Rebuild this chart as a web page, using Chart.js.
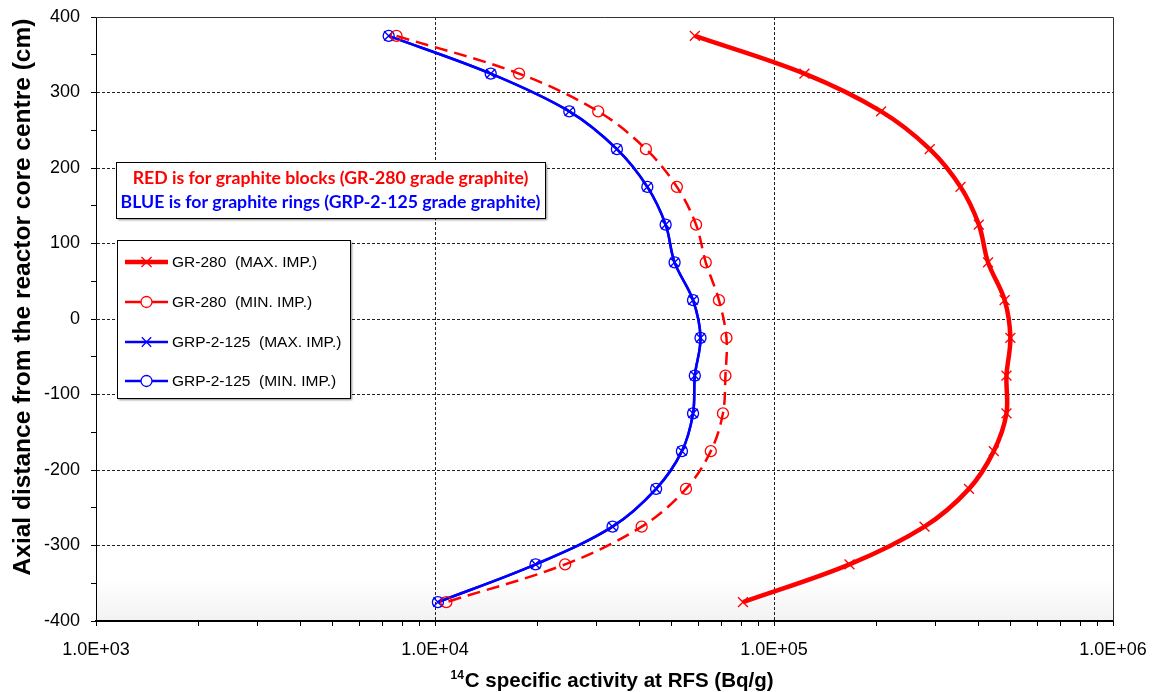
<!DOCTYPE html>
<html>
<head>
<meta charset="utf-8">
<script src="https://cdn.jsdelivr.net/npm/chart.js@4.4.1/dist/chart.umd.min.js"></script>
<style>
  html, body { margin: 0; padding: 0; background: #ffffff; }
  #wrap { position: relative; width: 1155px; height: 692px; }
  canvas { display: block; }
</style>
</head>
<body>
<div id="wrap"><canvas id="chart" width="1155" height="692"></canvas></div>
<script>
// ---- data ----
const axialPositions = [375, 325, 275, 225, 175, 125, 75, 25, -25, -75, -125, -175, -225, -275, -325, -375];
const gr280Max  = [58400, 123000, 207000, 288000, 355000, 402000, 428000, 479000, 498000, 485000, 485000, 445000, 376000, 278000, 167000, 81000];
const gr280Min  = [7700, 17700, 30300, 41900, 51700, 58900, 62900, 68800, 72400, 71900, 70700, 65100, 55000, 40700, 24200, 10800];
const grp2125Max = [7300, 14600, 24900, 34400, 42300, 47900, 50900, 57700, 60700, 58400, 57700, 53500, 44900, 33400, 19800, 10200];
const grp2125Min = [7300, 14600, 24900, 34400, 42300, 47900, 50900, 57700, 60700, 58400, 57700, 53500, 44900, 33400, 19800, 10200];
const seriesNames = ['GR-280  (MAX. IMP.)', 'GR-280  (MIN. IMP.)', 'GRP-2-125  (MAX. IMP.)', 'GRP-2-125  (MIN. IMP.)'];
const xTickValues = [1e3, 1e4, 1e5, 1e6];
const xTickLabels = ['1.0E+03', '1.0E+04', '1.0E+05', '1.0E+06'];
const yTickValues = [-400, -300, -200, -100, 0, 100, 200, 300, 400];
const yTickLabels = ['-400', '-300', '-200', '-100', '0', '100', '200', '300', '400'];
const noteLines = ['RED is for graphite blocks (GR-280 grade graphite)', 'BLUE is for graphite rings (GRP-2-125 grade graphite)'];
const xTitleSup = '14';
const xTitleMain = 'C specific activity at RFS (Bq/g)';
const yTitle = 'Axial distance from the reactor core centre (cm)';

const RED = '#ff0000';
const BLUE = '#0000ff';
const SANS = '"Liberation Sans", Arial, sans-serif';

function pts(arr) { return axialPositions.map((y, i) => ({ x: arr[i], y: y })); }
function isDecade(v) { const l = Math.log10(v); return Math.abs(l - Math.round(l)) < 1e-9; }

// plot-area background and border
const plotAreaPlugin = {
  id: 'plotArea',
  beforeDraw(chart) {
    const { ctx, chartArea: a } = chart;
    ctx.save();
    const g = ctx.createLinearGradient(0, a.top, 0, a.bottom);
    g.addColorStop(0, '#ffffff');
    g.addColorStop(0.93, '#ffffff');
    g.addColorStop(1, '#f2f2f2');
    ctx.fillStyle = g;
    ctx.fillRect(a.left, a.top, a.right - a.left, a.bottom - a.top);
    ctx.restore();
  },
  afterDraw(chart) {
    const { ctx, chartArea: a } = chart;
    ctx.save();
    ctx.strokeStyle = '#333';
    ctx.lineWidth = 1;
    ctx.beginPath();
    ctx.moveTo(a.left, a.top + 0.5);
    ctx.lineTo(a.right + 0.5, a.top + 0.5);
    ctx.lineTo(a.right + 0.5, a.bottom);
    ctx.stroke();
    ctx.restore();
  }
};

// axis titles
const titlesPlugin = {
  id: 'axisTitles',
  afterDraw(chart) {
    const ctx = chart.ctx;
    ctx.save();
    ctx.fillStyle = '#000';
    // y title
    ctx.translate(23, 297);
    ctx.rotate(-Math.PI / 2);
    ctx.textAlign = 'center'; ctx.textBaseline = 'middle';
    ctx.font = 'bold 24.5px ' + SANS;
    ctx.fillText(yTitle, 0, 0);
    ctx.setTransform(1, 0, 0, 1, 0, 0);
    // x title with superscript
    ctx.textBaseline = 'alphabetic'; ctx.textAlign = 'left';
    ctx.font = 'bold 20.5px ' + SANS;
    const wMain = ctx.measureText(xTitleMain).width;
    ctx.font = 'bold 12px ' + SANS;
    const wSup = ctx.measureText(xTitleSup).width;
    const total = wMain + wSup + 1;
    const x0 = 612 - total / 2;
    const base = 687;
    ctx.fillText(xTitleSup, x0, base - 8);
    ctx.font = 'bold 20.5px ' + SANS;
    ctx.fillText(xTitleMain, x0 + wSup + 1, base);
    ctx.restore();
  }
};

function drawMarker(ctx, style, x, y, r, color, lw) {
  ctx.save();
  ctx.strokeStyle = color;
  ctx.lineWidth = lw;
  ctx.setLineDash([]);
  ctx.beginPath();
  if (style === 'crossRot') {
    ctx.moveTo(x - r * 0.72, y - r * 0.72); ctx.lineTo(x + r * 0.72, y + r * 0.72);
    ctx.moveTo(x + r * 0.72, y - r * 0.72); ctx.lineTo(x - r * 0.72, y + r * 0.72);
  } else {
    ctx.arc(x, y, r, 0, Math.PI * 2);
    ctx.fillStyle = '#ffffff';
    ctx.fill();
  }
  ctx.stroke();
  ctx.restore();
}

// note box + legend box drawn inside the plot
const boxesPlugin = {
  id: 'boxes',
  afterDraw(chart) {
    const ctx = chart.ctx;
    ctx.save();
    const nb = { x: 116, y: 162, w: 429, h: 56 };
    ctx.shadowColor = 'rgba(0,0,0,0.45)';
    ctx.shadowOffsetX = 2; ctx.shadowOffsetY = 2; ctx.shadowBlur = 2;
    ctx.fillStyle = '#fff';
    ctx.fillRect(nb.x, nb.y, nb.w, nb.h);
    ctx.shadowColor = 'transparent';
    ctx.strokeStyle = '#000'; ctx.lineWidth = 1;
    ctx.strokeRect(nb.x + 0.5, nb.y + 0.5, nb.w, nb.h);
    ctx.textAlign = 'center'; ctx.textBaseline = 'middle';
    let fs = 17;
    ctx.font = 'bold ' + fs + 'px Lato';
    const target = 420;
    const wMeas = ctx.measureText(noteLines[1]).width;
    fs = fs * target / wMeas;
    ctx.font = 'bold ' + fs.toFixed(2) + 'px Lato';
    ctx.fillStyle = RED;  ctx.fillText(noteLines[0], nb.x + nb.w / 2, 178);
    ctx.fillStyle = BLUE; ctx.fillText(noteLines[1], nb.x + nb.w / 2, 202);

    const lb = { x: 117, y: 240, w: 233, h: 158 };
    ctx.shadowColor = 'rgba(0,0,0,0.45)';
    ctx.shadowOffsetX = 2; ctx.shadowOffsetY = 2; ctx.shadowBlur = 2;
    ctx.fillStyle = '#fff';
    ctx.fillRect(lb.x, lb.y, lb.w, lb.h);
    ctx.shadowColor = 'transparent';
    ctx.strokeRect(lb.x + 0.5, lb.y + 0.5, lb.w, lb.h);
    const rows = [262, 302, 342, 381];
    chart.data.datasets.forEach((ds, i) => {
      const y = rows[i];
      ctx.save();
      ctx.strokeStyle = ds.borderColor;
      ctx.lineWidth = ds.borderWidth;
      ctx.beginPath(); ctx.moveTo(125, y); ctx.lineTo(168, y); ctx.stroke();
      ctx.restore();
      drawMarker(ctx, ds.pointStyle, 146.5, y, ds.pointRadius, ds.borderColor, 1.3);
      ctx.fillStyle = '#000';
      ctx.textAlign = 'left'; ctx.textBaseline = 'middle';
      ctx.font = '15.5px ' + SANS;
      ctx.fillText(ds.label, 172, y + 1);
    });
    ctx.restore();
  }
};

const tickFont = { family: SANS, size: 18 };

const chart = new Chart(document.getElementById('chart'), {
  type: 'scatter',
  data: {
    datasets: [
      { label: seriesNames[0], data: pts(gr280Max), borderColor: RED, backgroundColor: RED,
        borderWidth: 4.5, showLine: true, tension: 0.35, pointStyle: 'crossRot', pointRadius: 7,
        pointBorderWidth: 1.3, pointBorderColor: RED },
      { label: seriesNames[1], data: pts(gr280Min), borderColor: RED, backgroundColor: 'rgba(255,255,255,0)',
        borderWidth: 2.5, borderDash: [13, 7], showLine: true, tension: 0.35, pointStyle: 'circle', pointRadius: 5.5,
        pointBorderWidth: 1.3, pointBorderColor: RED, pointBackgroundColor: 'rgba(255,255,255,0)' },
      { label: seriesNames[2], data: pts(grp2125Max), borderColor: BLUE, backgroundColor: BLUE,
        borderWidth: 2.5, showLine: true, tension: 0.35, pointStyle: 'crossRot', pointRadius: 6.5,
        pointBorderWidth: 1.3, pointBorderColor: BLUE },
      { label: seriesNames[3], data: pts(grp2125Min), borderColor: BLUE, backgroundColor: 'rgba(255,255,255,0)',
        borderWidth: 2.5, showLine: true, tension: 0.35, pointStyle: 'circle', pointRadius: 5.5,
        pointBorderWidth: 1.3, pointBorderColor: BLUE, pointBackgroundColor: 'rgba(255,255,255,0)' }
    ]
  },
  options: {
    responsive: false,
    animation: false,
    devicePixelRatio: 1,
    layout: { padding: { top: 17, right: 42, left: 0, bottom: 0 } },
    plugins: { legend: { display: false }, tooltip: { enabled: false } },
    scales: {
      x: {
        type: 'logarithmic',
        min: xTickValues[0],
        max: xTickValues[xTickValues.length - 1],
        afterBuildTicks(scale) {
          const t = [];
          for (let d = 0; d < xTickValues.length - 1; d++) {
            for (let k = 1; k <= 9; k++) t.push({ value: xTickValues[d] * k });
          }
          t.push({ value: xTickValues[xTickValues.length - 1] });
          scale.ticks = t;
        },
        afterFit(scale) { scale.height = 71; scale.paddingLeft = 0; scale.paddingRight = 0; },
        ticks: {
          autoSkip: false, maxRotation: 0, minRotation: 0, padding: 13, color: '#000', font: tickFont,
          callback(v) { const i = xTickValues.findIndex(t => Math.abs(t - v) / t < 1e-9); return i >= 0 ? xTickLabels[i] : ''; }
        },
        grid: {
          color(ctx) {
            const v = ctx.tick && ctx.tick.value;
            return (v && isDecade(v) && v > xTickValues[0] && v < xTickValues[xTickValues.length - 1]) ? '#222' : 'rgba(0,0,0,0)';
          },
          lineWidth: 1, tickColor: '#000', tickLength: 5, drawTicks: true
        },
        border: { display: true, color: '#000', width: 2, dash: [3, 2] },
        title: { display: false }
      },
      y: {
        type: 'linear',
        min: yTickValues[0],
        max: yTickValues[yTickValues.length - 1],
        afterFit(scale) { scale.width = 96; scale.paddingTop = 0; scale.paddingBottom = 0; },
        ticks: {
          stepSize: 50, autoSkip: false, padding: 11, color: '#000', font: tickFont,
          callback(v) { const i = yTickValues.indexOf(v); return i >= 0 ? yTickLabels[i] : ''; }
        },
        grid: {
          color(ctx) {
            const v = ctx.tick ? ctx.tick.value : null;
            return (v !== null && v % 100 === 0 && v > yTickValues[0] && v < yTickValues[yTickValues.length - 1]) ? '#222' : 'rgba(0,0,0,0)';
          },
          lineWidth: 1, tickColor: '#000', tickLength: 5, drawTicks: true
        },
        border: { display: true, color: '#000', width: 1, dash: [3, 2] },
        title: { display: false }
      }
    }
  },
  plugins: [plotAreaPlugin, boxesPlugin, titlesPlugin]
});
</script>
</body>
</html>
